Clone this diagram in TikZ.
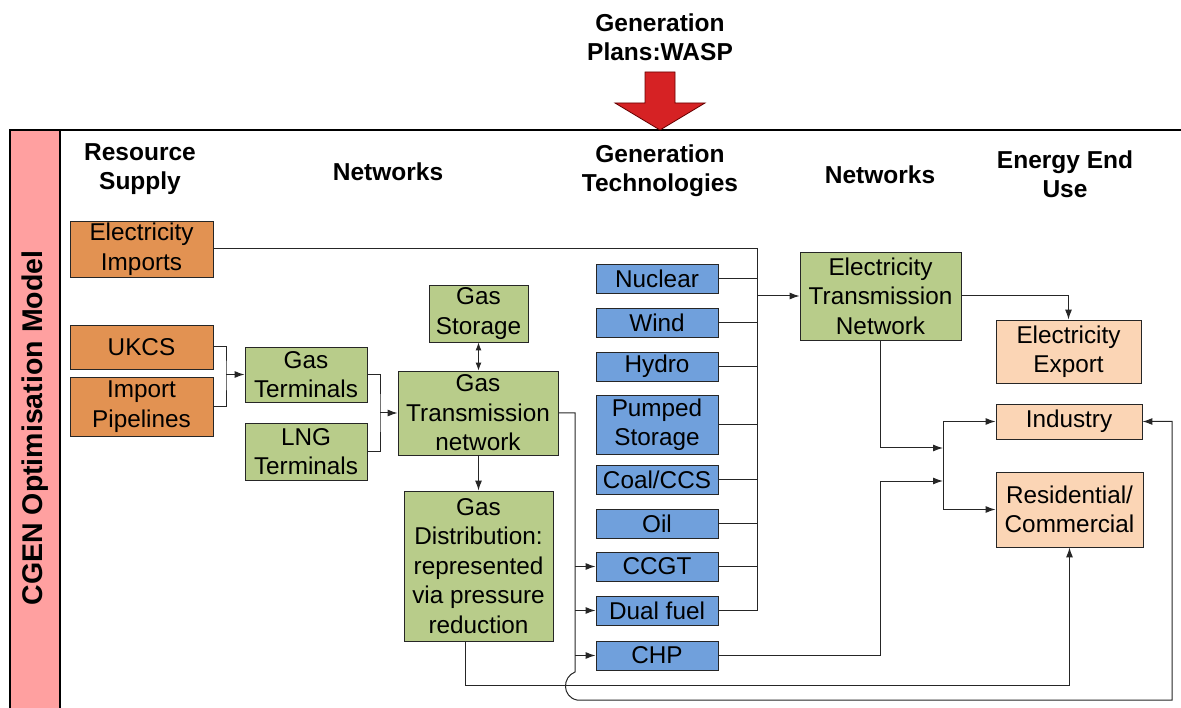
\documentclass[tikz,border=0pt]{standalone}
\usepackage{fontspec}
\setmainfont{Liberation Sans}
\usetikzlibrary{arrows.meta}
\definecolor{orng}{RGB}{226,146,82}
\definecolor{grn}{RGB}{184,204,138}
\definecolor{blu}{RGB}{112,160,220}
\definecolor{pch}{RGB}{251,213,181}
\definecolor{pnk}{RGB}{255,160,160}
\definecolor{wred}{RGB}{214,34,36}
\begin{document}
\begin{tikzpicture}[x=1pt,y=-1pt,
  box/.style={draw=black!85, line width=0.9pt, inner sep=0pt, align=center, font=\fontsize{24.3}{29.5}\selectfont},
  orbox/.style={box, fill=orng},
  grbox/.style={box, fill=grn},
  blbox/.style={box, fill=blu, minimum width=122},
  pcbox/.style={box, fill=pch},
  ln/.style={draw=black!85, line width=1pt},
  arr/.style={ln, -{Latex[length=10pt,width=7pt]}},
  darr/.style={ln, {Latex[length=8pt,width=6pt]}-{Latex[length=8pt,width=6pt]}},
  hdr/.style={align=center, inner sep=0pt, font=\bfseries\fontsize{24.5}{29}\selectfont}]
\useasboundingbox (0,0) rectangle (1181,708);

% frame
\draw[line width=2pt] (10,130) -- (1181,130);
\draw[fill=pnk, line width=1.6pt] (10,130) rectangle (60,712);
\node[rotate=90, inner sep=0pt, font=\bfseries\fontsize{28.5}{32}\selectfont] (model) at (35,428) {CGEN Optimisation Model};

% title and red arrow
\node[hdr] (title) at (660,37) {Generation\\Plans:WASP};
\filldraw[fill=wred, draw=black!60!red, line width=0.8pt] (645,72) -- (675,72) -- (675,103) -- (705,103) -- (660,130) -- (615,103) -- (645,103) -- cycle;

% headers
\node[hdr] (h1) at (140,169) {Resource\\Supply};
\node[hdr] (h2) at (388,172) {Networks};
\node[hdr] (h3) at (660,171) {Generation\\Technologies};
\node[hdr] (h4) at (880,175) {Networks};
\node[hdr] (h5) at (1065,174) {Energy End\\Use};

% resource supply
\node[orbox, minimum width=143, minimum height=56] (eimp) at (141.5,249) {Electricity\\Imports};
\node[orbox, minimum width=143, minimum height=44] (ukcs) at (141.5,347) {UKCS};
\node[orbox, minimum width=143, minimum height=59] (imp) at (141.5,406.5) {Import\\Pipelines};

% gas networks
\node[grbox, minimum width=122, minimum height=55] (gter) at (306,374.5) {Gas\\Terminals};
\node[grbox, minimum width=122, minimum height=57] (lng) at (306,451.5) {LNG\\Terminals};
\node[grbox, minimum width=99, minimum height=57] (gsto) at (478.5,313.5) {Gas\\Storage};
\node[grbox, minimum width=160, minimum height=84] (gtn) at (478,413) {Gas\\Transmission\\network};
\node[grbox, minimum width=149, minimum height=150] (gdist) at (478.5,566) {Gas\\Distribution:\\represented\\via pressure\\reduction};

% generation technologies
\node[blbox, minimum height=29] (nuc) at (657,278.5) {Nuclear};
\node[blbox, minimum height=29] (wind) at (657,322.5) {Wind};
\node[blbox, minimum height=29] (hyd) at (657,366.5) {Hydro};
\node[blbox, minimum height=59] (pump) at (657,424.5) {Pumped\\Storage};
\node[blbox, minimum height=29] (coal) at (657,479.5) {Coal/CCS};
\node[blbox, minimum height=29] (oil) at (657,523.5) {Oil};
\node[blbox, minimum height=29] (ccgt) at (657,566.5) {CCGT};
\node[blbox, minimum height=29] (dual) at (657,610.5) {Dual fuel};
\node[blbox, minimum height=29] (chp) at (657,655.5) {CHP};

% electricity network and end use
\node[grbox, minimum width=161, minimum height=88] (etn) at (880.5,296) {Electricity\\Transmission\\Network};
\node[pcbox, minimum width=145, minimum height=63] (eexp) at (1068.5,351.5) {Electricity\\Export};
\node[pcbox, minimum width=146, minimum height=35] (ind) at (1069,421.5) {Industry};
\node[pcbox, minimum width=147, minimum height=75] (res) at (1069.5,509.5) {Residential/\\Commercial};

% coordinates
\coordinate (bt) at (757,249);
\coordinate (j1) at (226,374.5);
\coordinate (j2) at (380,413);
\coordinate (gr) at (575,413);
\coordinate (hopA) at (575,672);
\coordinate (hopB) at (577,700);
\coordinate (rb) at (1172,700);
\coordinate (rt) at (1172,421.5);
\coordinate (k) at (880,481);
\coordinate (b2t) at (943,421.5);
\coordinate (b2b) at (943,509.5);

% electricity bus
\draw[ln] (eimp.east) -- (bt) -- (bt |- dual.east);
\foreach \n in {nuc,wind,hyd,pump,coal,oil,ccgt,dual}
  \draw[ln] (\n.east) -- (\n.east -| bt);
\draw[arr] (bt |- etn.west) -- (etn.west);

% gas supply
\draw[ln] (ukcs.east) -| (j1) |- (imp.east);
\draw[arr] (j1) -- (gter.west);
\draw[ln] (gter.east) -| (j2) |- (lng.east);
\draw[arr] (j2) -- (gtn.west);
\draw[darr] (gsto.south) -- (gsto.south |- gtn.north);
\draw[arr] (gtn.south -| gdist.north) -- (gdist.north);

% gas to generation and industry
\draw[arr] (gtn.east) -- (gr) -- (hopA) .. controls (562,677) and (562,697) .. (hopB) -- (rb) -- (rt) -- (ind.east);
\foreach \n in {ccgt,dual,chp}
  \draw[arr] (gr |- \n.west) -- (\n.west);

% gas distribution to residential
\draw[arr] ([xshift=-13pt]gdist.south) -- ++(0,44) -| (res.south);

% CHP and electricity network to end use
\draw[arr] (chp.east) -| (k) -- (k -| b2t);
\draw[arr] (etn.south) |- (b2t |- 0,448);
\draw[ln] (b2t) -- (b2b);
\draw[arr] (b2t) -- (ind.west);
\draw[arr] (b2b) -- (res.west);
\draw[arr] (etn.east) -| (eexp.north);
\end{tikzpicture}
\end{document}
